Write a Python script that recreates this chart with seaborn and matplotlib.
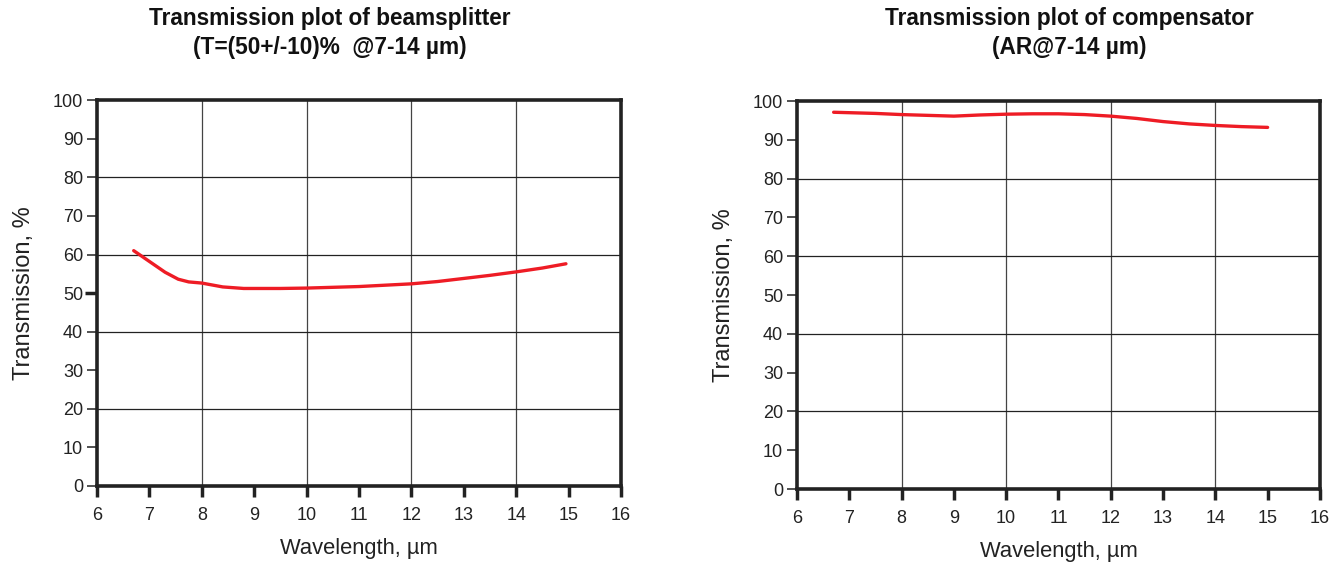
import numpy as np
import pandas as pd
import matplotlib
matplotlib.use('Agg')
import matplotlib.pyplot as plt
import seaborn as sns

bs_wl = [6.7, 7.0, 7.3, 7.55, 7.75, 8.0, 8.4, 8.8, 9.5, 10.0, 11.0, 12.0, 12.5, 13.0, 13.5, 14.0, 14.5, 14.95]
bs_t = [61.0, 58.2, 55.4, 53.6, 52.9, 52.6, 51.6, 51.2, 51.2, 51.3, 51.7, 52.4, 53.0, 53.8, 54.6, 55.5, 56.5, 57.6]

comp_wl = [6.7, 7.5, 8.0, 8.5, 9.0, 9.5, 10.0, 10.5, 11.0, 11.5, 12.0, 12.5, 13.0, 13.5, 14.0, 14.5, 15.0]
comp_t = [97.1, 96.8, 96.5, 96.3, 96.1, 96.4, 96.6, 96.7, 96.7, 96.5, 96.1, 95.5, 94.7, 94.1, 93.7, 93.4, 93.2]

titles = ['Transmission plot of beamsplitter\n(T=(50+/-10)%  @7-14 µm)',
          'Transmission plot of compensator\n(AR@7-14 µm)']

sns.set_style('white')
plt.rcParams['font.family'] = ['Liberation Sans', 'DejaVu Sans']

fig = plt.figure(figsize=(13.4, 5.63), dpi=100)
ax1 = fig.add_axes([0.0724, 0.1368, 0.391, 0.6852])
ax2 = fig.add_axes([0.5948, 0.1314, 0.3902, 0.6892])

frames = [pd.DataFrame({'wl': bs_wl, 't': bs_t}),
          pd.DataFrame({'wl': comp_wl, 't': comp_t})]
title_x = [0.246, 0.798]

for ax, df, title, tx in zip([ax1, ax2], frames, titles, title_x):
    sns.lineplot(x='wl', y='t', data=df, ax=ax, color='#ee1c25', linewidth=2.4)
    ax.set_xlim(6, 16)
    ax.set_ylim(0, 100)
    ax.set_xticks(range(6, 17))
    ax.set_yticks(range(0, 101, 10))
    ax.grid(False)
    for v in [8, 10, 12, 14]:
        ax.axvline(v, color='#444444', lw=0.9, zorder=0)
    for v in [20, 40, 60, 80]:
        ax.axhline(v, color='#222222', lw=0.9, zorder=0)
    ax.tick_params(axis='both', bottom=True, left=True, direction='out', width=1.1,
                   color='#222222', labelsize=13, labelcolor='#222222')
    ax.tick_params(axis='x', pad=9, length=6)
    ax.tick_params(axis='y', pad=3, length=7)
    # longer, thicker marks at the gridded values
    for t in ax.xaxis.get_major_ticks():
        if round(t.get_loc()) % 2 == 0:
            t.tick1line.set_markeredgewidth(2.5)
            t.tick1line.set_markersize(8)
    for t in ax.yaxis.get_major_ticks():
        if round(t.get_loc()) % 20 == 0:
            t.tick1line.set_markeredgewidth(2.5)
            t.tick1line.set_markersize(9)
    for s in ax.spines.values():
        s.set_linewidth(2.6)
        s.set_color('#222222')
    ax.set_xlabel('Wavelength, µm', fontsize=15.8, labelpad=10, color='#222222')
    ax.set_ylabel('Transmission, %', fontsize=17, labelpad=13, color='#222222')
    fig.text(tx, 0.987, title, ha='center', va='top', fontsize=16.3,
             fontweight='bold', color='#111111', linespacing=1.3)

fig.savefig('out.png', dpi=100)
